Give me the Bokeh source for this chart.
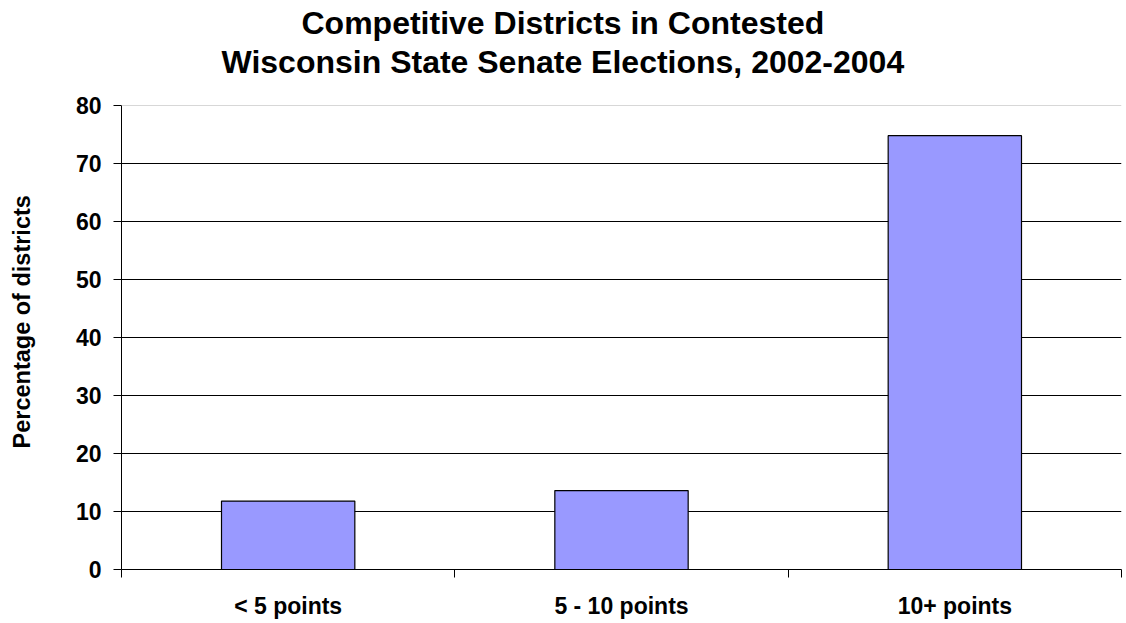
from bokeh.plotting import figure
from bokeh.models import Range1d, FixedTicker, Span, Title
from bokeh.embed import file_html
from bokeh.resources import INLINE

# ---- data ----
categories = ["< 5 points", "5 - 10 points", "10+ points"]
values = [11.8, 13.6, 74.8]
y_ticks = [0, 10, 20, 30, 40, 50, 60, 70, 80]
title_lines = ["Competitive Districts in Contested",
               "Wisconsin State Senate Elections, 2002-2004"]
y_label = "Percentage of districts"

FONT = "Liberation Sans"

xs = [i + 0.5 for i in range(len(categories))]

p = figure(width=1124, height=621, output_backend="svg", toolbar_location=None,
           x_range=Range1d(0, len(categories)), y_range=Range1d(0, 80),
           min_border_left=121, min_border_right=3, min_border_top=105,
           min_border_bottom=52)
p.background_fill_color = "white"
p.border_fill_color = "white"
p.outline_line_color = None

p.vbar(x=xs, top=values, width=0.4, bottom=0,
       fill_color="#9999FF", line_color="black", line_width=1.2)

# grid
p.xgrid.visible = False
p.ygrid.ticker = FixedTicker(ticks=y_ticks[1:-1])
p.ygrid.grid_line_color = "black"
p.ygrid.grid_line_width = 1
p.add_layout(Span(location=y_ticks[-1], dimension="width", line_color="#b0b0b0", line_width=1))

# y axis
p.yaxis.ticker = FixedTicker(ticks=y_ticks)
p.yaxis.axis_line_color = "black"
p.yaxis.major_tick_line_color = "black"
p.yaxis.major_tick_in = 0
p.yaxis.major_tick_out = 8
p.yaxis.minor_tick_line_color = None
p.yaxis.major_label_standoff = 12
p.yaxis.major_label_text_font = FONT
p.yaxis.major_label_text_font_style = "bold"
p.yaxis.major_label_text_font_size = "23px"
p.yaxis.major_label_text_color = "black"

# x axis: labels at category centres, ticks at category boundaries
p.xaxis.ticker = FixedTicker(ticks=xs, minor_ticks=list(range(len(categories) + 1)))
p.xaxis.major_label_overrides = {x: c for x, c in zip(xs, categories)}
p.xaxis.axis_line_color = "black"
p.xaxis.major_tick_line_color = None
p.xaxis.major_tick_in = 0
p.xaxis.major_tick_out = 0
p.xaxis.minor_tick_line_color = "black"
p.xaxis.minor_tick_in = 0
p.xaxis.minor_tick_out = 8
p.xaxis.major_label_standoff = 15
p.xaxis.major_label_text_font = FONT
p.xaxis.major_label_text_font_style = "bold"
p.xaxis.major_label_text_font_size = "23px"
p.xaxis.major_label_text_color = "black"

# title: spacer (nearest frame), line 2, then line 1 (outermost, p.title)
p.add_layout(Title(text=" ", text_font_size="1px", standoff=23), "above")
p.add_layout(Title(text=title_lines[1], align="left", offset=100, standoff=0,
                   text_font=FONT, text_font_style="bold", text_font_size="32px",
                   text_color="black"), "above")
p.title.text = title_lines[0]
p.title.align = "left"
p.title.offset = 180
p.title.standoff = 2
p.title.text_font = FONT
p.title.text_font_style = "bold"
p.title.text_font_size = "32px"
p.title.text_color = "black"

# y axis label: spacer next to the axis, then the rotated label
p.add_layout(Title(text=" ", text_font_size="1px", standoff=35), "left")
p.add_layout(Title(text=y_label, align="left", offset=121, standoff=0,
                   text_font=FONT, text_font_style="bold", text_font_size="23.5px",
                   text_color="black"), "left")

open("out.html", "w").write(file_html(p, INLINE))
